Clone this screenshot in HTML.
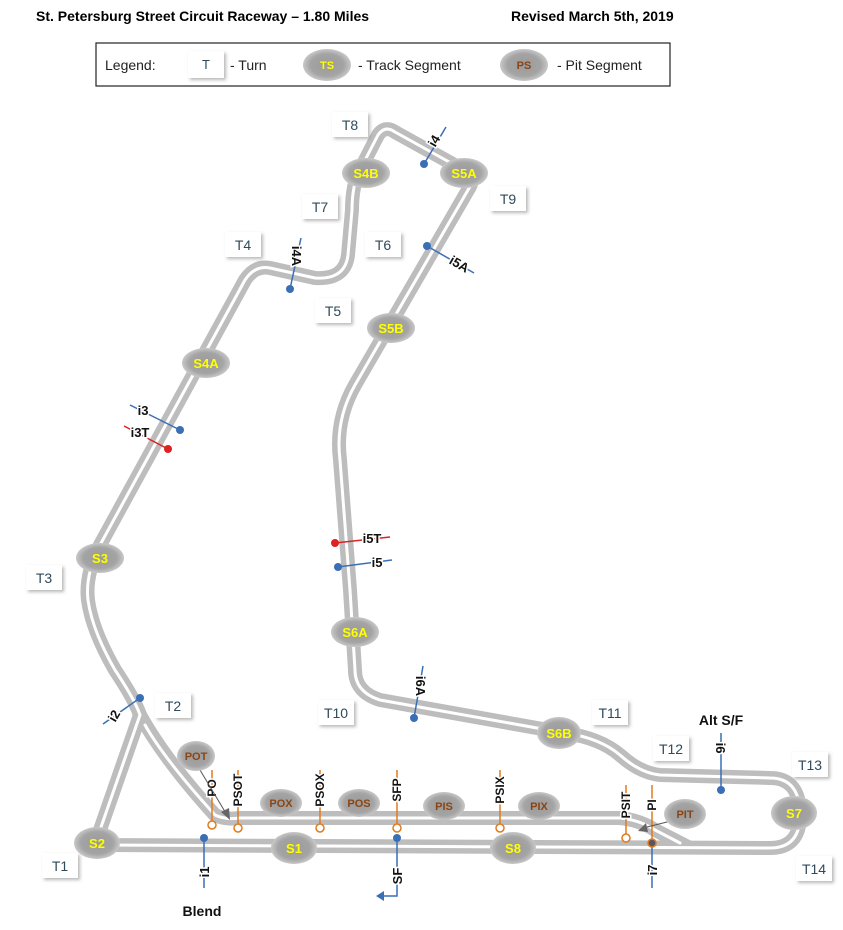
<!DOCTYPE html>
<html><head><meta charset="utf-8"><style>
body{margin:0;background:#fff;width:843px;height:925px;overflow:hidden;font-family:"Liberation Sans",sans-serif}
</style></head><body>
<svg width="843" height="925" viewBox="0 0 843 925" xmlns="http://www.w3.org/2000/svg" font-family="Liberation Sans, sans-serif">
<defs>
<radialGradient id="og" cx="50%" cy="50%" r="50%"><stop offset="0" stop-color="#9a9a9a"/><stop offset="0.7" stop-color="#a4a4a4"/><stop offset="1" stop-color="#c8c8c8"/></radialGradient>
<filter id="sh" x="-30%" y="-30%" width="160%" height="160%"><feDropShadow dx="2" dy="2" stdDeviation="1.5" flood-color="#888" flood-opacity="0.6"/></filter>
</defs>
<text x="36" y="21" font-size="14" font-weight="bold">St. Petersburg Street Circuit Raceway – 1.80 Miles</text>
<text x="511" y="21" font-size="14" font-weight="bold">Revised March 5th, 2019</text>
<rect x="96" y="43" width="574" height="43" fill="#fff" stroke="#222" stroke-width="1.2"/>
<text x="105" y="70" font-size="14" fill="#222">Legend:</text>
<rect x="188" y="51" width="36" height="27" fill="#fff" filter="url(#sh)"/>
<text x="206" y="69" font-size="13" fill="#2f4a5a" text-anchor="middle">T</text>
<text x="230" y="70" font-size="14" fill="#222">- Turn</text>
<ellipse cx="327" cy="65" rx="24" ry="16" fill="url(#og)"/>
<text x="327" y="69" font-size="11" font-weight="bold" fill="#ff0" text-anchor="middle">TS</text>
<text x="358" y="70" font-size="14" fill="#222">- Track Segment</text>
<ellipse cx="524" cy="65" rx="24" ry="16" fill="url(#og)"/>
<text x="524" y="69" font-size="11" font-weight="bold" fill="#8b4513" text-anchor="middle">PS</text>
<text x="557" y="70" font-size="14" fill="#222">- Pit Segment</text>

<g fill="none" stroke-linejoin="round" stroke-linecap="round">
<g id="trk">
<path d="M97,845 L770,848 Q800,848 800,815 Q800,778 770,778 L660,775 Q640,773 620,755 Q600,738 565,733 L380,700 Q355,692 355,670 L350,590 L340,460 Q335,420 355,385 L468,190 Q478,175 460,168 L395,132 Q385,125 378,135 L360,170 Q352,185 352,210 L348,255 Q345,280 315,278 L270,268 Q255,265 245,280 L100,545 Q85,575 88,600 Q92,630 115,670 Q135,700 140,715 L100,830 Q95,845 97,845"/>
<path d="M140,715 Q165,760 215,815 Q225,820 240,818 L620,818 Q640,820 655,830 L690,848"/>
</g>
</g>
<use href="#trk" stroke="#bdbdbd" stroke-width="14" fill="none"/>
<g fill="none" stroke="#fff" stroke-width="3" stroke-linejoin="round" stroke-linecap="round">
<path d="M97,845 L770,848 Q800,848 800,815 Q800,778 770,778 L660,775 Q640,773 620,755 Q600,738 565,733 L380,700 Q355,692 355,670 L350,590 L340,460 Q335,420 355,385 L468,190 Q478,175 460,168 L395,132 Q385,125 378,135 L360,170 Q352,185 352,210 L348,255 Q345,280 315,278 L270,268 Q255,265 245,280 L100,545 Q85,575 88,600 Q92,630 115,670 Q135,700 140,715 L100,830 Q95,845 97,845"/>
<path d="M145,725 Q165,760 215,815 Q225,820 240,818 L620,818 Q640,820 655,830 L680,843"/>
</g>

<g font-size="14" fill="#2f4a5a" text-anchor="middle">
<g filter="url(#sh)" fill="#fff">
<rect x="332" y="112" width="36" height="25"/><rect x="302" y="194" width="36" height="25"/><rect x="225" y="232" width="36" height="25"/>
<rect x="365" y="232" width="36" height="25"/><rect x="315" y="298" width="36" height="25"/><rect x="490" y="186" width="36" height="25"/>
<rect x="26" y="565" width="36" height="25"/><rect x="155" y="693" width="36" height="25"/><rect x="318" y="700" width="36" height="25"/>
<rect x="592" y="700" width="36" height="25"/><rect x="653" y="736" width="36" height="25"/><rect x="792" y="752" width="36" height="25"/>
<rect x="42" y="853" width="36" height="25"/><rect x="796" y="856" width="36" height="25"/>
</g>
<text x="350" y="130">T8</text><text x="320" y="212">T7</text><text x="243" y="250">T4</text>
<text x="383" y="250">T6</text><text x="333" y="316">T5</text><text x="508" y="204">T9</text>
<text x="44" y="583">T3</text><text x="173" y="711">T2</text><text x="336" y="718">T10</text>
<text x="610" y="718">T11</text><text x="671" y="754">T12</text><text x="810" y="770">T13</text>
<text x="60" y="871">T1</text><text x="814" y="874">T14</text>
</g>

<g stroke="#3a6fb5" stroke-width="1.5" fill="none">
<line x1="424" y1="164" x2="446" y2="127"/><line x1="427" y1="246" x2="474" y2="273"/>
<line x1="290" y1="289" x2="301" y2="238"/><line x1="180" y1="430" x2="130" y2="405"/>
<line x1="338" y1="567" x2="392" y2="560"/><line x1="414" y1="718" x2="423" y2="666"/>
<line x1="140" y1="698" x2="103" y2="724"/><line x1="204" y1="838" x2="204" y2="888"/>
<polyline points="397,838 397,896 382,896"/><line x1="652" y1="843" x2="652" y2="888"/>
<line x1="721" y1="790" x2="721" y2="733"/>
</g>
<polygon points="376,896 384,891 384,901" fill="#3a6fb5"/>
<g stroke="#d22" stroke-width="1.5"><line x1="168" y1="449" x2="124" y2="426"/><line x1="335" y1="543" x2="390" y2="537"/></g>
<g fill="#3a6fb5">
<circle cx="424" cy="164" r="4"/><circle cx="427" cy="246" r="4"/><circle cx="290" cy="289" r="4"/>
<circle cx="180" cy="430" r="4"/><circle cx="338" cy="567" r="4"/><circle cx="414" cy="718" r="4"/>
<circle cx="140" cy="698" r="4"/><circle cx="204" cy="838" r="4"/><circle cx="397" cy="838" r="4"/>
<circle cx="721" cy="790" r="4"/>
</g>
<g fill="#d22"><circle cx="168" cy="449" r="4"/><circle cx="335" cy="543" r="4"/></g>
<g font-size="13" font-weight="bold" fill="#111" stroke="#fff" stroke-width="3" paint-order="stroke">
<text transform="translate(438,143) rotate(-60)" text-anchor="middle">i4</text>
<text transform="translate(457,268) rotate(30)" text-anchor="middle">i5A</text>
<text transform="translate(292,256) rotate(90)" text-anchor="middle">i4A</text>
<text x="143" y="415" text-anchor="middle">i3</text>
<text x="140" y="437" text-anchor="middle">i3T</text>
<text x="372" y="543" text-anchor="middle">i5T</text>
<text x="377" y="567" text-anchor="middle">i5</text>
<text transform="translate(416,686) rotate(90)" text-anchor="middle">i6A</text>
<text transform="translate(118,718) rotate(-60)" text-anchor="middle">i2</text>
<text transform="translate(209,872) rotate(-90)" text-anchor="middle">i1</text>
<text transform="translate(402,876) rotate(-90)" text-anchor="middle">SF</text>
<text transform="translate(657,870) rotate(-90)" text-anchor="middle">i7</text>
<text transform="translate(716,748) rotate(90)" text-anchor="middle">i6</text>
</g>
<text x="721" y="725" font-size="14" font-weight="bold" text-anchor="middle" fill="#111">Alt S/F</text>
<text x="202" y="916" font-size="14" font-weight="bold" text-anchor="middle" fill="#111">Blend</text>

<g stroke="#e07a20" stroke-width="1.5" fill="#fff">
<line x1="212" y1="770" x2="212" y2="822"/><circle cx="212" cy="825" r="4"/>
<line x1="238" y1="770" x2="238" y2="825"/><circle cx="238" cy="828" r="4"/>
<line x1="320" y1="770" x2="320" y2="825"/><circle cx="320" cy="828" r="4"/>
<line x1="397" y1="770" x2="397" y2="825"/><circle cx="397" cy="828" r="4"/>
<line x1="500" y1="770" x2="500" y2="825"/><circle cx="500" cy="828" r="4"/>
<line x1="626" y1="785" x2="626" y2="835"/><circle cx="626" cy="838" r="4"/>
<line x1="652" y1="785" x2="652" y2="840"/><circle cx="652" cy="843" r="4" fill="#556"/>
</g>
<g font-size="12" font-weight="bold" fill="#111" stroke="#fff" stroke-width="3" paint-order="stroke">
<text transform="translate(216,788) rotate(-90)" text-anchor="middle">PO</text>
<text transform="translate(242,790) rotate(-90)" text-anchor="middle">PSOT</text>
<text transform="translate(324,790) rotate(-90)" text-anchor="middle">PSOX</text>
<text transform="translate(401,790) rotate(-90)" text-anchor="middle">SFP</text>
<text transform="translate(504,790) rotate(-90)" text-anchor="middle">PSIX</text>
<text transform="translate(630,805) rotate(-90)" text-anchor="middle">PSIT</text>
<text transform="translate(656,805) rotate(-90)" text-anchor="middle">PI</text>
</g>
<g stroke="#555" stroke-width="1"><line x1="200" y1="770" x2="227" y2="815"/><line x1="675" y1="820" x2="643" y2="828"/></g>
<polygon points="230,820 221,812 229,808" fill="#666"/><polygon points="638,831 646,823 648,832" fill="#666"/>

<g fill="url(#og)">
<ellipse cx="366" cy="173" rx="24" ry="15"/><ellipse cx="464" cy="173" rx="24" ry="15"/>
<ellipse cx="391" cy="328" rx="24" ry="15"/><ellipse cx="206" cy="363" rx="24" ry="15"/>
<ellipse cx="100" cy="558" rx="24" ry="15"/><ellipse cx="355" cy="632" rx="24" ry="15"/>
<ellipse cx="559" cy="733" rx="22" ry="16"/><ellipse cx="794" cy="813" rx="23" ry="17"/>
<ellipse cx="97" cy="843" rx="23" ry="16"/><ellipse cx="294" cy="848" rx="23" ry="16"/>
<ellipse cx="513" cy="848" rx="23" ry="16"/>
<ellipse cx="196" cy="756" rx="19" ry="15"/><ellipse cx="281" cy="803" rx="21" ry="14"/>
<ellipse cx="359" cy="803" rx="21" ry="14"/><ellipse cx="444" cy="806" rx="21" ry="14"/>
<ellipse cx="539" cy="806" rx="21" ry="14"/><ellipse cx="685" cy="814" rx="21" ry="15"/>
</g>
<g font-size="13" font-weight="bold" fill="#ff0" text-anchor="middle">
<text x="366" y="178">S4B</text><text x="464" y="178">S5A</text><text x="391" y="333">S5B</text>
<text x="206" y="368">S4A</text><text x="100" y="563">S3</text><text x="355" y="637">S6A</text>
<text x="559" y="738">S6B</text><text x="794" y="818">S7</text><text x="97" y="848">S2</text>
<text x="294" y="853">S1</text><text x="513" y="853">S8</text>
</g>
<g font-size="11" font-weight="bold" fill="#8b4513" text-anchor="middle">
<text x="196" y="760">POT</text><text x="281" y="807">POX</text><text x="359" y="807">POS</text>
<text x="444" y="810">PIS</text><text x="539" y="810">PIX</text><text x="685" y="818">PIT</text>
</g>
</svg>
</body></html>
